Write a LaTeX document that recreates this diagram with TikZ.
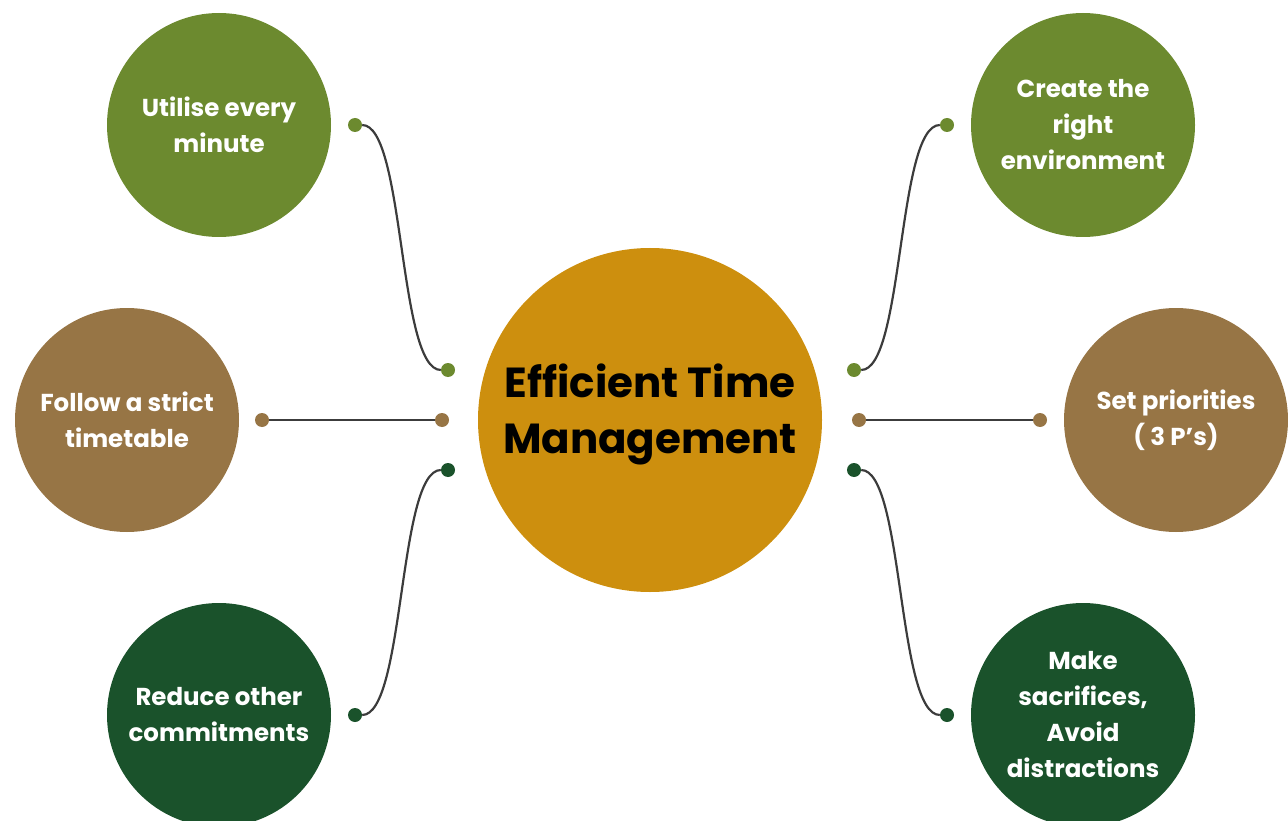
\documentclass[tikz,border=0pt]{standalone}
\usepackage{fontspec}
\setmainfont{Poppins}
\usetikzlibrary{positioning, calc}

\definecolor{olive}{HTML}{6C8A2F}
\definecolor{bronze}{HTML}{977545}
\definecolor{forest}{HTML}{1A522B}
\definecolor{gold}{HTML}{CD8F0E}
\definecolor{linkgray}{HTML}{3C3C3C}

\tikzset{
  hub/.style={circle, fill=gold, minimum size=344pt, inner sep=0pt},
  hubtext/.style={align=center, font=\bfseries\fontsize{42}{56}\selectfont},
  topic/.style={circle, fill=#1, minimum size=224pt, inner sep=0pt, text=white,
    align=center, font=\bfseries\fontsize{24.5}{36}\selectfont},
  joint/.style={circle, fill=#1, minimum size=14pt, inner sep=0pt},
  link/.style={draw=linkgray, line width=2.2pt},
}

\begin{document}
\begin{tikzpicture}[x=1pt,y=-1pt]
\useasboundingbox (0,0) rectangle (1288,821);
\clip (0,0) rectangle (1288,821);
% Hub
\node[hub](etm) at (650,420) {};
\node[hubtext](etmtitle) at ([yshift=6pt]etm.center) {Efficient Time\\Management};
% Topics on the left
\node[topic=olive](utilise) at (219,125) {Utilise every\\minute};
\node[topic=bronze](timetable) at (127,420) {Follow a strict\\timetable};
\node[topic=forest](reduce) at (219,715) {Reduce other\\commitments};
% Topics on the right
\node[topic=olive](environment) at (1083,125) {Create the\\right\\environment};
\node[topic=bronze](priorities) at (1176,420) {Set priorities\\( 3 P’s)};
\node[topic=forest](sacrifices) at (1083,715) {Make\\sacrifices,\\Avoid\\distractions};
% Joints
\node[joint=olive](u1) at (355,125) {};
\node[joint=olive](u2) at (448,370) {};
\node[joint=bronze](t1) at (262,420) {};
\node[joint=bronze](t2) at (442,420) {};
\node[joint=forest](r1) at (355,715) {};
\node[joint=forest](r2) at (448,470) {};
\node[joint=olive](e1) at (947,125) {};
\node[joint=olive](e2) at (854,370) {};
\node[joint=bronze](p1) at (859,420) {};
\node[joint=bronze](p2) at (1040,420) {};
\node[joint=forest](s1) at (947,715) {};
\node[joint=forest](s2) at (854,470) {};
% Connectors
\draw[link] (u1) .. controls (405,125) and (398,370) .. (u2);
\draw[link] (t1) -- (t2);
\draw[link] (r1) .. controls (405,715) and (398,470) .. (r2);
\draw[link] (e1) .. controls (897,125) and (904,370) .. (e2);
\draw[link] (p1) -- (p2);
\draw[link] (s1) .. controls (897,715) and (904,470) .. (s2);
\end{tikzpicture}
\end{document}
